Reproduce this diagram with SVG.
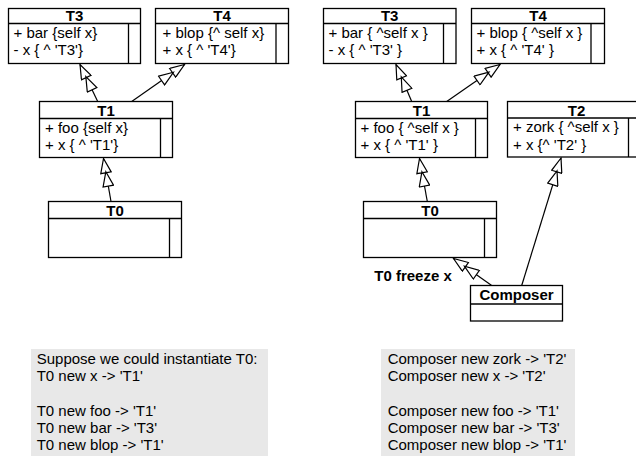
<svg xmlns="http://www.w3.org/2000/svg" width="636" height="459" viewBox="0 0 636 459">
<defs>
<style>
.box{fill:#fff;stroke:#000;stroke-width:1.3}
.ln{stroke:#000;stroke-width:1.3;fill:none}
.t{font-family:"Liberation Sans",Arial,sans-serif;font-size:15px;fill:#000}
.b{font-family:"Liberation Sans",Arial,sans-serif;font-size:15px;font-weight:bold;fill:#000;text-anchor:middle}
.note{fill:#e8e8e8;stroke:none}
.c{stroke:#000;stroke-width:1.2;fill:none;marker-end:url(#gen2)}
</style>
<marker id="gen2" markerUnits="userSpaceOnUse" viewBox="0 0 31 12" markerWidth="31" markerHeight="12" refX="30" refY="6" orient="auto">
<path d="M30,6 L15.5,0.7 L15.5,11.3 Z M16.5,6 L2,0.7 L2,11.3 Z" fill="#fff" stroke="#000" stroke-width="1.2" stroke-linejoin="miter"/>
</marker>
</defs>
<rect width="636" height="459" fill="#fff"/>

<g id="connectors">
<line class="c" x1="97.7" y1="101.5" x2="80" y2="64.5"/>
<line class="c" x1="131.7" y1="101.5" x2="184.5" y2="64.5"/>
<line class="c" x1="111" y1="201.5" x2="103.5" y2="158.5"/>
<line class="c" x1="411.7" y1="101.5" x2="396" y2="64.5"/>
<line class="c" x1="446.7" y1="101.5" x2="500" y2="64.5"/>
<line class="c" x1="427.3" y1="201.5" x2="419.5" y2="158.5"/>
<line class="c" x1="491.7" y1="285.5" x2="453.5" y2="258.5"/>
<line class="c" x1="521.7" y1="285.5" x2="561" y2="158"/>
</g>

<g id="L-T3">
<rect class="box" x="8.5" y="8.5" width="132" height="55"/>
<line class="ln" x1="8.5" y1="23.5" x2="140.5" y2="23.5"/>
<line class="ln" x1="128.5" y1="23.5" x2="128.5" y2="63.5"/>
<text class="b" x="74.5" y="21">T3</text>
<text class="t" x="13.5" y="37.5">+ bar {self x}</text>
<text class="t" x="13.5" y="55">- x { ^ 'T3'}</text>
</g>
<g id="L-T4">
<rect class="box" x="155.5" y="8.5" width="133" height="55"/>
<line class="ln" x1="155.5" y1="23.5" x2="288.5" y2="23.5"/>
<line class="ln" x1="276" y1="23.5" x2="276" y2="63.5"/>
<text class="b" x="222" y="21">T4</text>
<text class="t" x="162.5" y="37.5">+ blop {^ self x}</text>
<text class="t" x="162.5" y="55">+ x { ^ 'T4'}</text>
</g>
<g id="L-T1">
<rect class="box" x="39.5" y="101.5" width="133" height="56"/>
<line class="ln" x1="39.5" y1="118.5" x2="172.5" y2="118.5"/>
<line class="ln" x1="160.5" y1="118.5" x2="160.5" y2="157.5"/>
<text class="b" x="106" y="115.5">T1</text>
<text class="t" x="45" y="132.5">+ foo {self x}</text>
<text class="t" x="45" y="150">+ x { ^ 'T1'}</text>
</g>
<g id="L-T0">
<rect class="box" x="48.5" y="201.5" width="133" height="56"/>
<line class="ln" x1="48.5" y1="218.5" x2="181.5" y2="218.5"/>
<line class="ln" x1="169.5" y1="218.5" x2="169.5" y2="257.5"/>
<text class="b" x="115" y="215.5">T0</text>
</g>

<g id="R-T3">
<rect class="box" x="323.5" y="8.5" width="132.5" height="55"/>
<line class="ln" x1="323.5" y1="23.5" x2="456" y2="23.5"/>
<line class="ln" x1="443.5" y1="23.5" x2="443.5" y2="63.5"/>
<text class="b" x="389.7" y="21">T3</text>
<text class="t" x="328.5" y="37.5">+ bar { ^self x }</text>
<text class="t" x="328.5" y="55">- x { ^ 'T3' }</text>
</g>
<g id="R-T4">
<rect class="box" x="471.5" y="8.5" width="133" height="55"/>
<line class="ln" x1="471.5" y1="23.5" x2="604.5" y2="23.5"/>
<line class="ln" x1="591" y1="23.5" x2="591" y2="63.5"/>
<text class="b" x="538" y="21">T4</text>
<text class="t" x="476.5" y="37.5">+ blop { ^self x }</text>
<text class="t" x="476.5" y="55">+ x { ^ 'T4' }</text>
</g>
<g id="R-T1">
<rect class="box" x="355.5" y="101.5" width="132" height="56"/>
<line class="ln" x1="355.5" y1="118.5" x2="487.5" y2="118.5"/>
<line class="ln" x1="475.5" y1="118.5" x2="475.5" y2="157.5"/>
<text class="b" x="421.5" y="115.5">T1</text>
<text class="t" x="360.5" y="132.5">+ foo { ^self x }</text>
<text class="t" x="360.5" y="150">+ x { ^ 'T1' }</text>
</g>
<g id="R-T2">
<rect class="box" x="507.5" y="101.5" width="133" height="55.5"/>
<line class="ln" x1="507.5" y1="118" x2="640.5" y2="118"/>
<line class="ln" x1="628.5" y1="118" x2="628.5" y2="157"/>
<text class="b" x="576.5" y="115.5">T2</text>
<text class="t" x="513" y="132">+ zork { ^self x }</text>
<text class="t" x="513" y="149.5">+ x  {^ 'T2' }</text>
</g>
<g id="R-T0">
<rect class="box" x="363.5" y="201.5" width="133" height="56"/>
<line class="ln" x1="363.5" y1="218.5" x2="496.5" y2="218.5"/>
<line class="ln" x1="484.5" y1="218.5" x2="484.5" y2="257.5"/>
<text class="b" x="430" y="215.5">T0</text>
</g>
<g id="Composer">
<rect class="box" x="470.5" y="285.5" width="92" height="35.5"/>
<line class="ln" x1="470.5" y1="304" x2="562.5" y2="304"/>
<text class="b" x="516.5" y="299.5">Composer</text>
</g>
<g id="freeze-label">
<text class="b" x="413" y="280.5">T0 freeze x</text>
</g>

<g id="note-left">
<rect class="note" x="31" y="349" width="237" height="107"/>
<text class="t" x="36.7" y="364.3">Suppose we could instantiate T0:</text>
<text class="t" x="36.7" y="381.3">T0 new x -&gt; 'T1'</text>
<text class="t" x="36.7" y="416">T0 new foo -&gt; 'T1'</text>
<text class="t" x="36.7" y="433.2">T0 new bar -&gt; 'T3'</text>
<text class="t" x="36.7" y="450.3">T0 new blop -&gt; 'T1'</text>
</g>
<g id="note-right">
<rect class="note" x="381" y="349" width="194" height="107"/>
<text class="t" x="387.7" y="364.3">Composer new zork -&gt; 'T2'</text>
<text class="t" x="387.7" y="381.3">Composer new x -&gt; 'T2'</text>
<text class="t" x="387.7" y="416">Composer new foo -&gt; 'T1'</text>
<text class="t" x="387.7" y="433.2">Composer new bar -&gt; 'T3'</text>
<text class="t" x="387.7" y="450.3">Composer new blop -&gt; 'T1'</text>
</g>
</svg>
